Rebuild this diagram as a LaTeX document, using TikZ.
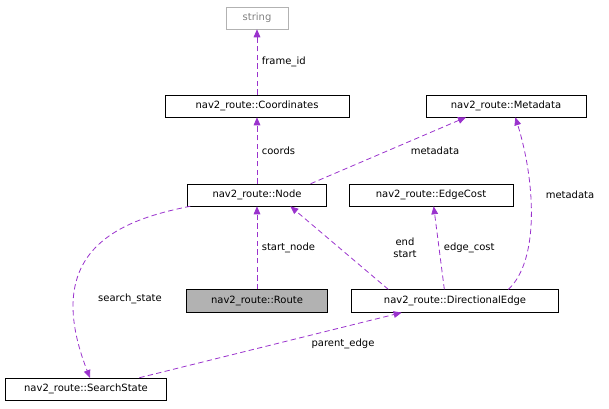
\documentclass[tikz,border=0pt]{standalone}
\usepackage{fontspec}
\setmainfont{DejaVu Sans}
\usetikzlibrary{arrows.meta}
\definecolor{edgepurple}{HTML}{9A32CD}
\begin{document}
\begin{tikzpicture}[x=0.75pt, y=-0.75pt,
    cls/.style={draw, thin, inner sep=0pt, font=\fontsize{7.5}{9}\selectfont},
    uses/.style={edgepurple, semithick, dash pattern=on 4pt off 2.5pt, -{Triangle[length=6pt, width=5pt]}},
    lbl/.style={text=black, font=\fontsize{7.5}{9}\selectfont, align=center}
        ]

    \path [use as bounding box] (0,0) rectangle (609,409);

    % class boxes
    \node [cls, draw=gray!60, text=gray, minimum width=46.5pt, minimum height=16.5pt] (string) at (257,18) {string};
    \node [cls, minimum width=138pt, minimum height=16.5pt] (coords) at (257,106) {nav2\_route::Coordinates};
    \node [cls, minimum width=120pt, minimum height=16.5pt] (meta) at (506,106) {nav2\_route::Metadata};
    \node [cls, minimum width=104pt, minimum height=16.5pt] (node) at (257,195) {nav2\_route::Node};
    \node [cls, minimum width=123pt, minimum height=16.5pt] (cost) at (431,195) {nav2\_route::EdgeCost};
    \node [cls, fill=gray!60, minimum width=106pt, minimum height=17pt] (route) at (257,301) {nav2\_route::Route};
    \node [cls, minimum width=155pt, minimum height=17pt] (edge) at (455,301) {nav2\_route::DirectionalEdge};
    \node [cls, minimum width=121pt, minimum height=16.5pt] (state) at (86,389) {nav2\_route::SearchState};

    % connectors
    \draw [uses] (coords) -- (string) node [lbl, midway, right] {frame\_id};
    \draw [uses] (node) -- (coords) node [lbl, midway, right] {coords};
    \draw [uses] ([xshift=-12pt]node.north east) -- ([xshift=-30pt]meta.south);
    \node [lbl] at (435,151) {metadata};
    \draw [uses] (route) -- (node) node [lbl, midway, right] {start\_node};
    \draw [uses] ([xshift=-50pt]edge.north) -- ([xshift=25pt]node.south);
    \node [lbl] at (405,248) {end\\start};
    \draw [uses] ([xshift=-8pt]edge.north) -- ([xshift=2pt]cost.south) node [lbl, midway, right] {edge\_cost};
    \draw [uses] ([xshift=40pt]edge.north) .. controls (540,260) and (535,180) .. ([xshift=7pt]meta.south);
    \node [lbl] at (570,195) {metadata};
    \draw [uses] ([xshift=-50pt]node.south) .. controls (120,220) and (40,250) .. (90,378);
    \node [lbl] at (130,299) {search\_state};
    \draw [uses] ([xshift=40pt]state.north) -- ([xshift=-40pt]edge.south);
    \node [lbl] at (343,344) {parent\_edge};

\end{tikzpicture}
\end{document}
